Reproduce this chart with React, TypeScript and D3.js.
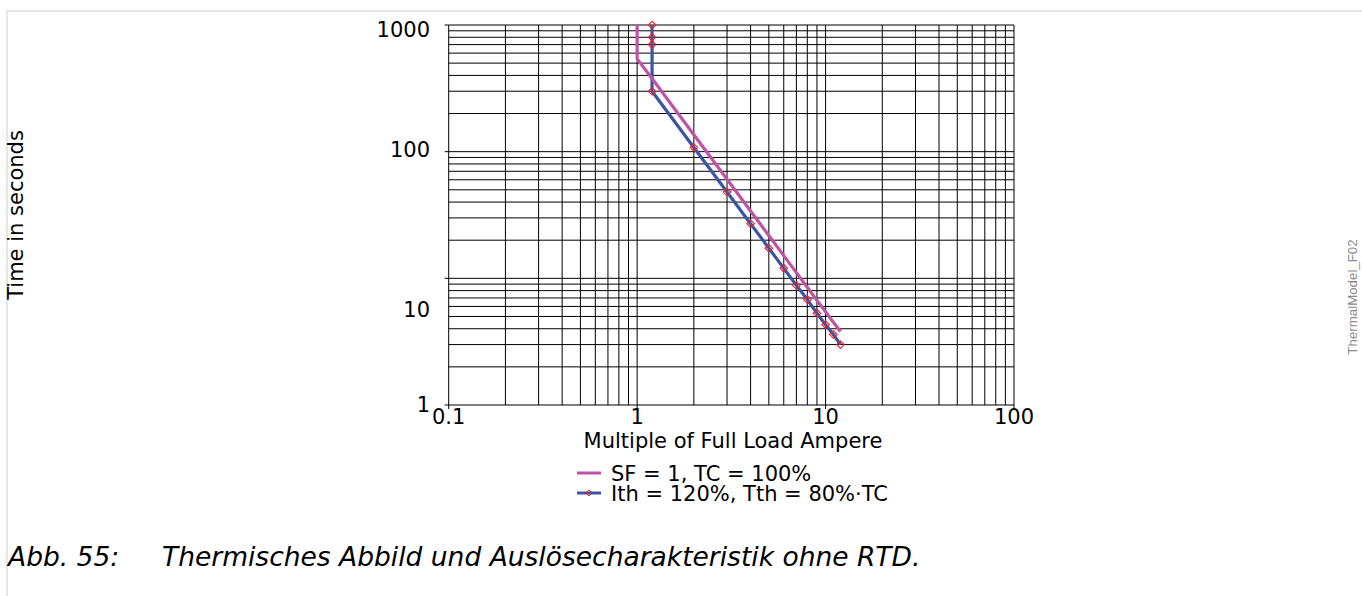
import React from 'react'
import { scaleLog, line } from 'd3'

// Thermal model trip curve, log-log, time over multiple of FLA.

const W = 1362
const H = 596

const CURRENT_TICKS = [0.1, 1, 10, 100]
const TIME_TICKS = [1, 10, 100, 1000]

// SF = 1, TC = 100%
const SF_CURRENT = [1, 1, 1.2, 2, 3, 4, 5, 6, 7, 8, 9, 10, 11, 12]
const SF_TIME = [1000, 540, 378, 136, 60.5, 34, 21.8, 15.1, 11.1, 8.5, 6.7, 5.45, 4.5, 3.8]

// Ith = 120%, Tth = 80%·TC
const ITH_CURRENT = [1.2, 1.2, 1.2, 1.2, 2, 3, 4, 5, 6, 7, 8, 9, 10, 11, 12]
const ITH_TIME = [1000, 800, 700, 300, 108, 48, 27, 17.3, 12, 8.8, 6.8, 5.3, 4.3, 3.6, 3.0]

const LEGEND = ['SF = 1, TC = 100%', 'Ith = 120%, Tth = 80%·TC']

const PINK = '#c153a6'
const BLUE = '#3b55a6'
const RED = '#ff1a1a'
const FONT = '"DejaVu Sans", sans-serif'

// the source figure draws its "10" label well below the gridline
const TIME_LABEL_NUDGE: Record<number, number> = { 1000: 4, 100: -2.5, 10: 31, 1: -0.8 }

export default function App() {
  const x = scaleLog().domain([0.1, 100]).range([448.7, 1014])
  const y = scaleLog().domain([1, 1000]).range([405, 25])
  const [x0, x1] = x.range()
  const [y0, y1] = y.range()

  const sf = SF_CURRENT.map((c, i) => [c, SF_TIME[i]] as [number, number])
  const ith = ITH_CURRENT.map((c, i) => [c, ITH_TIME[i]] as [number, number])
  const path = line<[number, number]>()
    .x((d) => x(d[0]))
    .y((d) => y(d[1]))

  const diamond = (cx: number, cy: number, r: number) =>
    `M${cx},${cy - r}L${cx + r},${cy}L${cx},${cy + r}L${cx - r},${cy}Z`

  const legendY = [473, 493]

  return (
    <svg
      width={W}
      height={H}
      viewBox={`0 0 ${W} ${H}`}
      style={{ position: 'absolute', left: 0, top: 0, background: '#fff' }}
    >
      {/* page frame */}
      <line x1={7} x2={W} y1={11} y2={11} stroke="#e6e6e6" strokeWidth={2} />
      <line x1={7} x2={7} y1={10} y2={H} stroke="#e6e6e6" strokeWidth={2} />

      {/* grid */}
      {x.ticks().map((t) => (
        <line key={'gx' + t} x1={x(t)} x2={x(t)} y1={y1} y2={y0} stroke="#000" strokeWidth={1} />
      ))}
      {y.ticks().map((t) => (
        <line key={'gy' + t} x1={x0} x2={x1} y1={y(t)} y2={y(t)} stroke="#000" strokeWidth={1} />
      ))}

      {/* axis ticks */}
      {TIME_TICKS.map((t) => (
        <line key={'ty' + t} x1={x0 - 4} x2={x0} y1={y(t)} y2={y(t)} stroke="#000" strokeWidth={1} />
      ))}
      {CURRENT_TICKS.map((t) => (
        <line key={'tx' + t} x1={x(t)} x2={x(t)} y1={y0} y2={y0 + 4} stroke="#000" strokeWidth={1} />
      ))}

      {/* tick labels */}
      {TIME_TICKS.map((t) => (
        <text
          key={'ly' + t}
          x={430}
          y={y(t) + 7.6 + (TIME_LABEL_NUDGE[t] ?? 0)}
          textAnchor="end"
          fontFamily={FONT}
          fontSize={21}
          fill="#000"
        >
          {t}
        </text>
      ))}
      {CURRENT_TICKS.map((t) => (
        <text
          key={'lx' + t}
          x={x(t)}
          y={423.5}
          textAnchor="middle"
          fontFamily={FONT}
          fontSize={21}
          fill="#000"
        >
          {t}
        </text>
      ))}

      {/* series */}
      <path d={path(ith) ?? ''} fill="none" stroke={BLUE} strokeWidth={3.2} strokeLinejoin="round" />
      <path d={path(sf) ?? ''} fill="none" stroke={PINK} strokeWidth={3.2} strokeLinejoin="round" />
      {ith.map((d, i) => (
        <path key={'m' + i} d={diamond(x(d[0]), y(d[1]), 3.8)} fill="none" stroke={RED} strokeWidth={1.1} />
      ))}

      {/* axis titles */}
      <text
        transform={`translate(23,${(y0 + y1) / 2}) rotate(-90)`}
        textAnchor="middle"
        fontFamily={FONT}
        fontSize={21}
        fill="#000"
      >
        Time in seconds
      </text>
      <text x={733} y={448} textAnchor="middle" fontFamily={FONT} fontSize={21} fill="#000">
        Multiple of Full Load Ampere
      </text>

      {/* legend */}
      <line x1={577} x2={601} y1={legendY[0]} y2={legendY[0]} stroke={PINK} strokeWidth={3} />
      <line x1={577} x2={601} y1={legendY[1]} y2={legendY[1]} stroke={BLUE} strokeWidth={3} />
      <path d={diamond(589, legendY[1], 3)} fill="none" stroke={RED} strokeWidth={1} />
      {LEGEND.map((s, i) => (
        <text key={s} x={611} y={legendY[i] + 7.6} fontFamily={FONT} fontSize={21} fill="#000">
          {s}
        </text>
      ))}

      {/* figure id */}
      <text
        transform="translate(1357,297) rotate(-90)"
        textAnchor="middle"
        fontFamily='"Liberation Sans", Arial, sans-serif'
        fontSize={13.3}
        fill="#8a8a8a"
      >
        ThermalModel_F02
      </text>

      {/* caption */}
      <text x={8} y={565.5} fontFamily={FONT} fontStyle="italic" fontSize={26.5} fill="#000">
        Abb. 55:
      </text>
      <text x={162} y={565.5} fontFamily={FONT} fontStyle="italic" fontSize={26.5} fill="#000">
        Thermisches Abbild und Auslösecharakteristik ohne RTD.
      </text>
    </svg>
  )
}
